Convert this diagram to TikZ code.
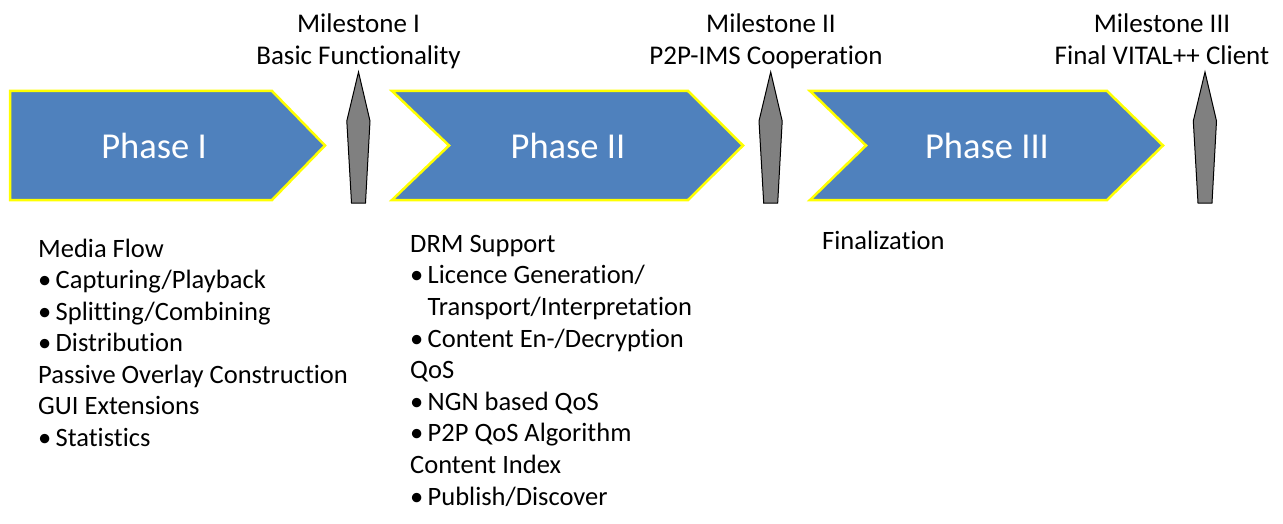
\documentclass[tikz,border=0pt]{standalone}
\usepackage{fontspec}
\setmainfont{Carlito}[Ligatures=CommonOff]
\definecolor{phaseblue}{HTML}{4F81BD}
\definecolor{phaseedge}{HTML}{FFFF00}
\definecolor{msgray}{HTML}{808080}
\newcommand\bul{\makebox[17.5pt][l]{•}}
\begin{document}
\begin{tikzpicture}[x=1pt,y=-1pt,
  phase/.style={fill=phaseblue,draw=phaseedge,line width=2.5pt,line join=miter},
  phasetext/.style={anchor=base,text=white,font=\fontsize{36.5}{40}\selectfont,inner sep=0pt},
  milestone/.style={fill=msgray,draw=black,line width=1pt,line join=miter},
  mstext/.style={anchor=base,font=\fontsize{27}{32}\selectfont,inner sep=0pt},
  item/.style={anchor=base west,font=\fontsize{26.5}{31}\selectfont,inner sep=0pt}]
\useasboundingbox (0,0) rectangle (1283,524);

% phase chevrons
\draw[phase] (10,91) -- (272,91) -- (325,145.5) -- (272,200) -- (10,200) -- cycle;
\draw[phase] (392,91) -- (688,91) -- (743,145.5) -- (688,200) -- (392,200) -- (449,145.5) -- cycle;
\draw[phase] (810,91) -- (1107,91) -- (1163,145.5) -- (1107,200) -- (810,200) -- (866,145.5) -- cycle;
\node[phasetext] (p1) at (154,159) {Phase I};
\node[phasetext] (p2) at (568,159) {Phase II};
\node[phasetext] (p3) at (987,159) {Phase III};

% milestone markers
\foreach \c in {358.5,770.7,1205}
  \draw[milestone] (\c,72) -- (\c+11.5,121) -- (\c+7,203) -- (\c-7,203) -- (\c-11.7,121) -- cycle;

% milestone labels
\node[mstext] (m1a) at (358.5,33) {Milestone I};
\node[mstext] (m1b) at (358.5,65) {Basic Functionality};
\node[mstext] (m2a) at (771,33) {Milestone II};
\node[mstext] (m2b) at (766,65) {P2P-IMS Cooperation};
\node[mstext] (m3a) at (1162,33) {Milestone III};
\node[mstext] (m3b) at (1162,65) {Final VITAL++ Client};

% work items of phase I
\foreach \t [count=\i] in {Media Flow,\bul Capturing/Playback,\bul Splitting/Combining,
    \bul Distribution,Passive Overlay Construction,GUI Extensions,\bul Statistics}
  \node[item] (a\i) at (38,257+31.5*\i-31.5) {\t};

% work items of phase II
\foreach \t [count=\i] in {DRM Support,\bul Licence Generation/,\hspace*{17.5pt}Transport/Interpretation,
    \bul Content En-/Decryption,QoS,\bul NGN based QoS,\bul P2P QoS Algorithm,
    Content Index,\bul Publish/Discover}
  \node[item] (b\i) at (410,252.3+31.6*\i-31.6) {\t};

% work items of phase III
\node[item] (c1) at (822,249) {Finalization};
\end{tikzpicture}
\end{document}
